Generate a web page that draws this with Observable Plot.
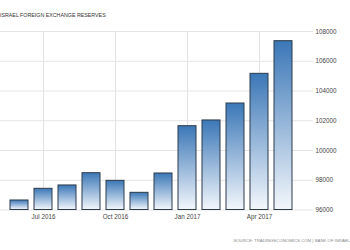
<!DOCTYPE html>
<html><head><meta charset="utf-8">
<script src="https://cdn.jsdelivr.net/npm/d3@7"></script>
<script src="https://cdn.jsdelivr.net/npm/@observablehq/plot@0.6"></script>
<style>body{margin:0;background:#fff} svg{display:block}</style>
</head><body><div id="chart"></div>
<script>
const months = ["2016-06","2016-07","2016-08","2016-09","2016-10","2016-11","2016-12","2017-01","2017-02","2017-03","2017-04","2017-05"];
const values = [96640, 97425, 97650, 98475, 97960, 97155, 98455, 101635, 102020, 103160, 105155, 107350];
const tickMonths = ["2016-07","2016-10","2017-01","2017-04"];
const tickLabels = ["Jul 2016","Oct 2016","Jan 2017","Apr 2017"];
const yTicks = [96000, 98000, 100000, 102000, 104000, 106000, 108000];
const title = "ISRAEL FOREIGN EXCHANGE RESERVES";
const source = "SOURCE: TRADINGECONOMICS.COM | BANK OF ISRAEL";

const data = months.map((m, i) => ({month: m, value: values[i]}));

const chart = Plot.plot({
  width: 350, height: 250,
  marginTop: 31, marginBottom: 40.5, marginLeft: 0, marginRight: 37,
  style: {fontFamily: "'Liberation Sans', Arial, sans-serif", background: "#fff"},
  x: {type: "band", domain: months, range: [-1.2, 304.1], padding: 0.23, axis: null, label: null},
  y: {domain: [96000, 108000], axis: null, label: null},
  marks: [
    Plot.gridY(yTicks, {stroke: "#e4e4e4", strokeOpacity: 1}),
    Plot.gridX(tickMonths, {stroke: "#e4e4e4", strokeOpacity: 1}),
    Plot.barY(data, {x: "month", y1: 96000, y2: "value", fill: "url(#teGrad)", stroke: "#2e3b4a", strokeWidth: 1}),
    Plot.axisX(tickMonths, {tickSize: 0, tickPadding: 5, fontSize: 6.3, fill: "#444", label: null,
      tickFormat: d => tickLabels[tickMonths.indexOf(d)]}),
    Plot.axisY(yTicks, {anchor: "right", tickSize: 0, tickPadding: 2, textAnchor: "start", fontSize: 6.3, fill: "#444", label: null,
      tickFormat: d => String(d)})
  ]
});

const svg = d3.select(chart);
const grad = svg.insert("defs", ":first-child").append("linearGradient")
  .attr("id", "teGrad").attr("x1", 0).attr("y1", 0).attr("x2", 0).attr("y2", 1);
grad.append("stop").attr("offset", "0%").attr("stop-color", "#3b77b7");
grad.append("stop").attr("offset", "100%").attr("stop-color", "#f3f7fc");

svg.append("text").text(title)
  .attr("x", 0).attr("y", 16.5).attr("text-anchor", "start")
  .attr("font-size", 5.3).attr("fill", "#333");
svg.append("text").text(source)
  .attr("x", 350).attr("y", 241.5).attr("text-anchor", "end")
  .attr("font-size", 4.3).attr("fill", "#888");

document.getElementById("chart").appendChild(chart);
</script>
</body></html>
